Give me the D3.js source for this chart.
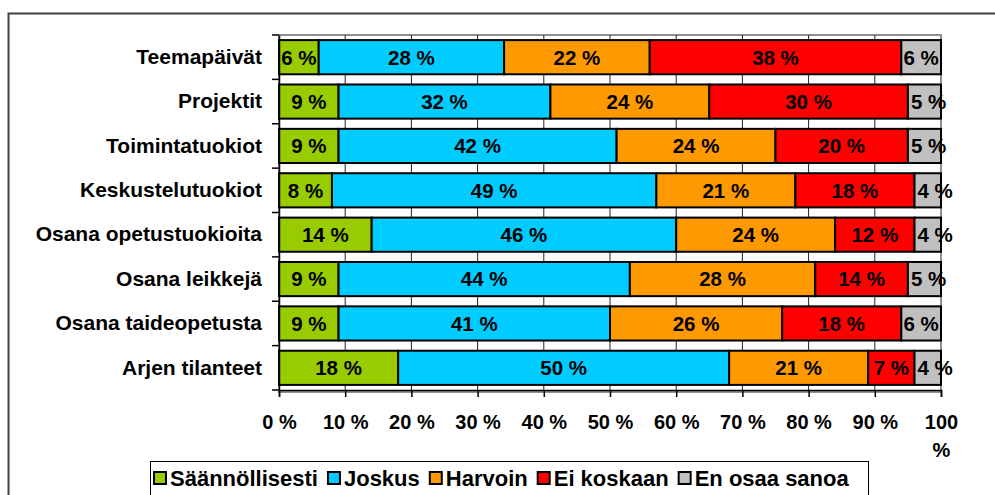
<!DOCTYPE html>
<html>
<head>
<meta charset="utf-8">
<script src="https://cdn.jsdelivr.net/npm/d3@7"></script>
<style>
  body { margin: 0; background: #fff; }
  svg { display: block; font-family: "Liberation Sans", Arial, sans-serif; font-weight: bold; }
</style>
</head>
<body>
<div id="chart"></div>
<script>
// data
const categories = ["Teemapäivät", "Projektit", "Toimintatuokiot", "Keskustelutuokiot",
  "Osana opetustuokioita", "Osana leikkejä", "Osana taideopetusta", "Arjen tilanteet"];
const seriesNames = ["Säännöllisesti", "Joskus", "Harvoin", "Ei koskaan", "En osaa sanoa"];
const saannollisesti = [6, 9, 9, 8, 14, 9, 9, 18];
const joskus = [28, 32, 42, 49, 46, 44, 41, 50];
const harvoin = [22, 24, 24, 21, 24, 28, 26, 21];
const eiKoskaan = [38, 30, 20, 18, 12, 14, 18, 7];
const enOsaa = [6, 5, 5, 4, 4, 5, 6, 4];
const xTicks = [0, 10, 20, 30, 40, 50, 60, 70, 80, 90, 100];
const colors = ["#99CC00", "#00CCFF", "#FF9900", "#FF0000", "#C0C0C0"];

const width = 995, height = 495;
const margin = {top: 35, right: 54, bottom: 105, left: 279};
const plotW = width - margin.left - margin.right;
const plotH = height - margin.top - margin.bottom;

/* rows for the stack */
const rows = categories.map((c, i) => ({
  cat: c,
  "Säännöllisesti": saannollisesti[i],
  "Joskus": joskus[i],
  "Harvoin": harvoin[i],
  "Ei koskaan": eiKoskaan[i],
  "En osaa sanoa": enOsaa[i]
}));
const stacked = d3.stack().keys(seriesNames)(rows);

const svg = d3.select("#chart").append("svg")
  .attr("width", width).attr("height", height);

// outer frame
svg.append("rect")
  .attr("x", 8.5).attr("y", 13.5)
  .attr("width", 1000).attr("height", 500)
  .attr("fill", "none").attr("stroke", "#404040").attr("stroke-width", 2);

const g = svg.append("g").attr("transform", `translate(${margin.left},${margin.top})`);

const x = d3.scaleLinear().domain([0, 100]).range([0, plotW]);
const y = d3.scaleBand().domain(categories).range([0, plotH])
  .paddingInner(0.23).paddingOuter(0.115);

// plot area border
g.append("rect")
  .attr("x", 0).attr("y", 0).attr("width", plotW).attr("height", plotH + 2)
  .attr("fill", "none").attr("stroke", "#909090").attr("stroke-width", 2);

// vertical gridlines
g.selectAll(".grid").data(xTicks.slice(1, -1)).enter().append("line")
  .attr("x1", d => x(d)).attr("x2", d => x(d))
  .attr("y1", 0).attr("y2", plotH)
  .attr("stroke", "#222").attr("stroke-width", 1);

// bars
const layer = g.selectAll(".layer").data(stacked).enter().append("g")
  .attr("fill", (d, i) => colors[i]);
layer.selectAll("rect").data(d => d).enter().append("rect")
  .attr("x", d => x(d[0]))
  .attr("y", d => y(d.data.cat))
  .attr("width", d => x(d[1]) - x(d[0]))
  .attr("height", y.bandwidth())
  .attr("stroke", "#000").attr("stroke-width", 2);

// value labels (too wide ones start at the segment's left edge)
layer.selectAll("text").data(d => d.map(v => ({v, key: d.key}))).enter().append("text")
  .attr("x", d => (x(d.v[0]) + x(d.v[1])) / 2)
  .attr("y", d => y(d.v.data.cat) + y.bandwidth() / 2)
  .attr("dy", "0.36em")
  .attr("text-anchor", "middle")
  .attr("fill", "#000")
  .style("font-size", "20.5px")
  .text(d => d.v.data[d.key] + " %")
  .each(function(d) {
    const w = this.getComputedTextLength();
    const segW = x(d.v[1]) - x(d.v[0]);
    if (w > segW - 2) {
      d3.select(this).attr("text-anchor", "start").attr("x", x(d.v[0]) + 3);
    }
  });

// y axis
const yAxis = d3.axisLeft(y).tickSize(0).tickPadding(17);
const ya = g.append("g").call(yAxis);
ya.select(".domain").attr("stroke", "#000").attr("stroke-width", 1.5);
ya.selectAll("text").style("font-size", "21px").attr("fill", "#000");
// category separators on the left
const seps = d3.range(categories.length + 1).map(i => i * y.step());
g.selectAll(".ysep").data(seps).enter().append("line")
  .attr("x1", -7).attr("x2", 0).attr("y1", d => d).attr("y2", d => d)
  .attr("stroke", "#000").attr("stroke-width", 1.5);

// x axis
const xAxis = d3.axisBottom(x).tickValues(xTicks).tickSize(7).tickPadding(18)
  .tickFormat(d => d + " %");
const xa = g.append("g").attr("transform", `translate(0,${plotH})`).call(xAxis);
xa.select(".domain").attr("stroke", "#000").attr("stroke-width", 1.5);
xa.selectAll(".tick line").attr("stroke", "#000").attr("stroke-width", 1.5);
xa.selectAll("text").style("font-size", "20px").attr("fill", "#000")
  .each(function(d) {
    if (d === 100) {
      const t = d3.select(this);
      t.text(null);
      t.append("tspan").attr("x", 0).text("100");
      t.append("tspan").attr("x", 0).attr("dy", "1.4em").text("%");
    }
  });

// legend
const lg = svg.append("g");
lg.append("rect")
  .attr("x", 150.5).attr("y", 461.5).attr("width", 718).attr("height", 50)
  .attr("fill", "#fff").attr("stroke", "#000").attr("stroke-width", 1);
let lx = 154;
seriesNames.forEach((name, i) => {
  lg.append("rect")
    .attr("x", lx).attr("y", 472).attr("width", 12).attr("height", 12)
    .attr("fill", colors[i]).attr("stroke", "#000").attr("stroke-width", 2);
  const t = lg.append("text")
    .attr("x", lx + 16).attr("y", 486)
    .style("font-size", "22px").attr("fill", "#000")
    .text(name);
  lx += 16 + t.node().getComputedTextLength() + 10;
});
</script>
</body>
</html>
